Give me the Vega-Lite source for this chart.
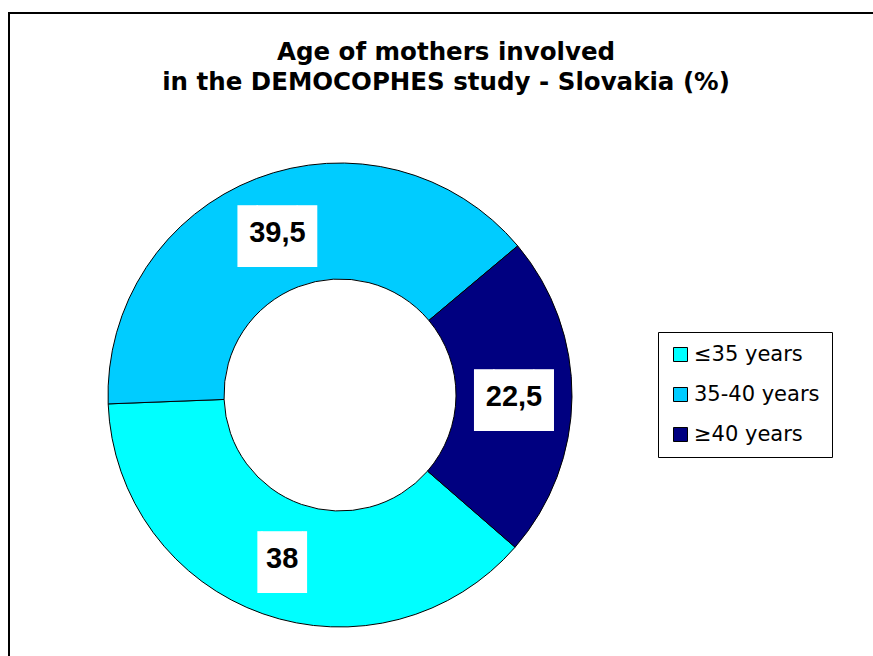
{
  "$schema": "https://vega.github.io/schema/vega-lite/v6.json",
  "width": 880,
  "height": 660,
  "autosize": {"type": "none"},
  "padding": {"left": 9, "top": 13, "right": 0, "bottom": 0},
  "background": "white",
  "config": {
    "view": {"stroke": null},
    "locale": {"number": {"decimal": ",", "thousands": ".", "grouping": [3], "currency": ["", " €"]}}
  },
  "title": {
    "text": ["Age of mothers involved", "in the DEMOCOPHES study - Slovakia (%)"],
    "font": "DejaVu Sans",
    "fontSize": 24.5,
    "fontWeight": "bold",
    "color": "black",
    "anchor": "middle",
    "frame": "group",
    "orient": "top",
    "baseline": "top",
    "offset": 0,
    "dx": -3,
    "dy": 83,
    "lineHeight": 30
  },
  "data": {
    "values": [
      {"category": "≤35 years", "value": 38},
      {"category": "35-40 years", "value": 39.5},
      {"category": "≥40 years", "value": 22.5}
    ]
  },
  "layer": [
    {
      "data": {"values": [{}]},
      "mark": {"type": "rect", "fill": "transparent", "stroke": "black", "strokeWidth": 2}
    },
    {
      "mark": {"type": "arc", "innerRadius": 116, "outerRadius": 232, "stroke": "black", "strokeWidth": 1, "xOffset": -109, "yOffset": 52},
      "encoding": {
        "theta": {"field": "value", "type": "quantitative", "stack": true, "scale": {"range": [0.8727, 7.1559]}},
        "order": {"field": "category", "type": "ordinal", "sort": "descending"},
        "color": {
          "field": "category",
          "type": "nominal",
          "scale": {"domain": ["≤35 years", "35-40 years", "≥40 years"], "range": ["#00FFFF", "#00CCFF", "#000080"]},
          "legend": {
            "orient": "none",
            "legendX": 649,
            "legendY": 319,
            "title": null,
            "strokeColor": "black",
            "fillColor": "white",
            "padding": 12,
            "symbolType": "square",
            "symbolSize": 196,
            "symbolStrokeColor": "black",
            "symbolStrokeWidth": 1,
            "symbolOpacity": 1,
            "labelFont": "DejaVu Sans",
            "labelFontSize": 21,
            "labelColor": "black",
            "rowPadding": 18,
            "labelOffset": 3
          }
        }
      }
    },
    {
      "mark": {"type": "text", "radius": 174, "font": "DejaVu Sans", "fontSize": 52, "color": "white", "xOffset": -109, "yOffset": 52, "dy": 5, "baseline": "middle", "align": "center"},
      "encoding": {
        "theta": {"field": "value", "type": "quantitative", "stack": true},
        "order": {"field": "category", "type": "ordinal", "sort": "descending"},
        "text": {"condition": {"test": "datum.category === '≤35 years'", "value": "▕█▏"}, "value": "▐█▌"}
      }
    },
    {
      "mark": {"type": "text", "radius": 174, "font": "Liberation Sans", "fontSize": 29, "fontWeight": "bold", "color": "black", "xOffset": -109, "yOffset": 52, "baseline": "middle", "align": "center"},
      "encoding": {
        "theta": {"field": "value", "type": "quantitative", "stack": true},
        "order": {"field": "category", "type": "ordinal", "sort": "descending"},
        "text": {"field": "value", "type": "quantitative", "format": ".1~f"}
      }
    }
  ]
}
